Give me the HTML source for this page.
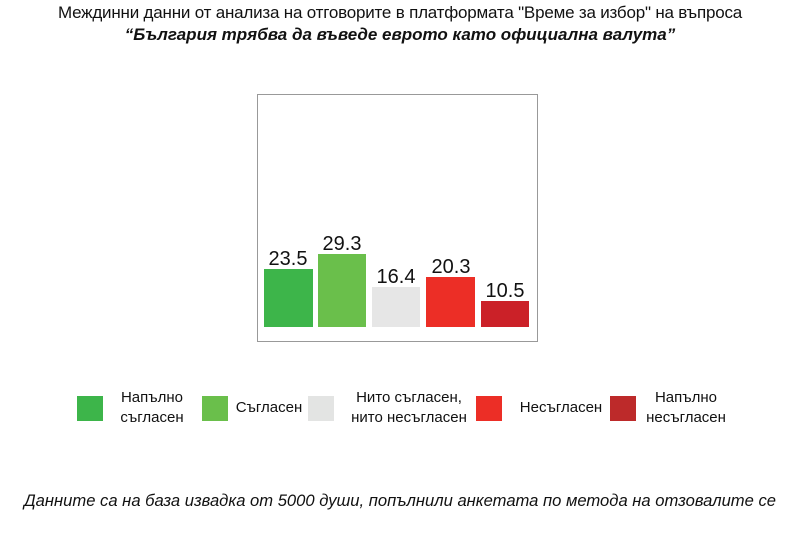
<!DOCTYPE html>
<html><head><meta charset="utf-8"><style>
body{margin:0;width:800px;height:533px;background:#fff;font-family:"Liberation Sans",sans-serif;position:relative;overflow:hidden;color:#111}
.a{position:absolute}
.t{left:0;width:800px;text-align:center;white-space:nowrap}
.bar{position:absolute}
.v{position:absolute;width:70px;text-align:center;font-size:20px;color:#111}
.sq{position:absolute;top:396px;width:26px;height:25px}
.lg{position:absolute;font-size:15px;line-height:20px;text-align:center;white-space:nowrap}
</style></head><body>
<div class="a t" style="top:3px;font-size:17px;letter-spacing:-0.2px">Междинни данни от анализа на отговорите в платформата "Време за избор" на въпроса</div>
<div class="a t" style="top:25px;font-size:17px;font-weight:bold;font-style:italic">“България трябва да въведе еврото като официална валута”</div>
<div class="a" style="left:257px;top:94px;width:279px;height:246px;border:1px solid #999"></div>
<div class="bar" style="left:264px;width:49px;height:58px;background:#3db54a;top:269px"></div>
<div class="bar" style="left:318px;width:48px;height:73px;background:#6abf4b;top:254px"></div>
<div class="bar" style="left:372px;width:48px;height:40px;background:#e6e6e6;top:287px"></div>
<div class="bar" style="left:426px;width:49px;height:50px;background:#ec2e26;top:277px"></div>
<div class="bar" style="left:481px;width:48px;height:26px;background:#cb2128;top:301px"></div>
<div class="v" style="left:253px;top:248px">23.5</div>
<div class="v" style="left:307px;top:233px">29.3</div>
<div class="v" style="left:361px;top:266px">16.4</div>
<div class="v" style="left:416px;top:256px">20.3</div>
<div class="v" style="left:470px;top:280px">10.5</div>
<div class="sq" style="left:77px;background:#3db54a"></div>
<div class="sq" style="left:202px;background:#6abf4b"></div>
<div class="sq" style="left:308px;background:#e3e4e3"></div>
<div class="sq" style="left:476px;background:#ec2e26"></div>
<div class="sq" style="left:610px;background:#bd2a2a"></div>
<div class="lg" style="left:112px;width:80px;top:388px">Напълно<br>съгласен</div>
<div class="lg" style="left:230px;width:78px;top:398px">Съгласен</div>
<div class="lg" style="left:339px;width:140px;top:388px">Нито съгласен,<br>нито несъгласен</div>
<div class="lg" style="left:505px;width:112px;top:398px">Несъгласен</div>
<div class="lg" style="left:636px;width:100px;top:388px">Напълно<br>несъгласен</div>
<div class="a t" style="top:491px;font-size:16.6px;font-style:italic">Данните са на база извадка от 5000 души, попълнили анкетата по метода на отзовалите се</div>
</body></html>
